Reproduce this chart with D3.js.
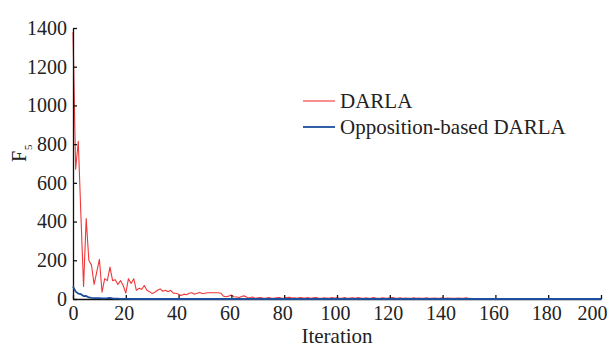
<!DOCTYPE html>
<html><head><meta charset="utf-8">
<script src="https://cdn.jsdelivr.net/npm/d3@7"></script>
<style>
body{margin:0;background:#fff}
svg{display:block}
text{font-family:"Liberation Serif","Times New Roman",serif;fill:#222}
</style>
</head><body>
<svg id="c" width="616" height="347"></svg>
<script>
const xTicks = [0,20,40,60,80,100,120,140,160,180,200];
const yTicks = [0,200,400,600,800,1000,1200,1400];
const seriesNames = ["DARLA","Opposition-based DARLA"];
const darla = [
1380,670,815,430,65,415,200,175,75,140,
205,35,105,95,165,95,100,75,95,70,
30,105,80,105,45,55,50,70,45,38,
28,35,45,52,40,45,38,45,30,30,
25,18,25,22,30,32,25,30,34,28,
30,32,32,32,32,32,30,15,12,15,
20,12,10,8,14,16,8,6,10,4,
6,8,5,4,7,5,4,
6,8,5,4,7,9,5,6,4,8,6,5,7,4,6,8,5,3,6,5,4,7,5,6,
4,5,7,3,5,6,4,8,5,3,6,4,5,7,4,3,6,5,4,6,8,5,4,6,3,
5,4,3,6,4,5,3,4,6,3,4,5,3,4,6,3,5,4,3,4,5,3,4,6,3,
2,1,2,1,1,2,1,0,1,1,
0,1,0,1,0,0,1,0,0,1,
0,0,1,0,0,0,1,0,0,0,
0,1,0,0,0,0,0,1,0,0,
0,0,0,0,1,0,0,0,0,0
];
const oppDarla = [
65,38,28,25,15,16,8,6,5,5,
4,3,3,4,6,3,2,2,1,1,
1,1,0,1,0,0,1,0,0,0,
1,0,0,0,0,1,0,0,0,0,
0,0,0,0,0,0,0,0,0,0,
0,0,0,0,0,0,0,0,0,0,
0,0,0,0,0,0,0,0,0,0,
0,0,0,0,0,0,0,0,0,0,
0,0,0,0,0,0,0,0,0,0,
0,0,0,0,0,0,0,0,0,0,
0,0,0,0,0,0,0,0,0,0,
0,0,0,0,0,0,0,0,0,0,
0,0,0,0,0,0,0,0,0,0,
0,0,0,0,0,0,0,0,0,0,
0,0,0,0,0,0,0,0,0,0,
0,0,0,0,0,0,0,0,0,0,
0,0,0,0,0,0,0,0,0,0,
0,0,0,0,0,0,0,0,0,0,
0,0,0,0,0,0,0,0,0,0,
0,0,0,0,0,0,0,0,0,0,
0
];
const colors = ["#f03838","#1d4f9e"];

const svg = d3.select("#c");
const x = d3.scaleLinear().domain([0,200]).range([73,601]);
const y = d3.scaleLinear().domain([0,1400]).range([299,28]);

const line = d3.line().x((d,i)=>x(i)).y(d=>y(d));

svg.append("path").datum(darla).attr("d",line)
  .attr("fill","none").attr("stroke",colors[0]).attr("stroke-width",1.1).attr("stroke-linejoin","round");

const xAxis = svg.append("g").attr("transform","translate(0,299)")
  .call(d3.axisBottom(x).tickValues(xTicks).tickSizeInner(-4).tickSizeOuter(0).tickPadding(7).tickFormat(d3.format("d")));
const yAxis = svg.append("g").attr("transform","translate(73,0)")
  .call(d3.axisLeft(y).tickValues(yTicks).tickSizeInner(-4).tickSizeOuter(0).tickPadding(6).tickFormat(d3.format("d")));
[xAxis,yAxis].forEach(g=>{
  g.select(".domain").attr("stroke","#111").attr("stroke-width",1.3);
  g.selectAll(".tick line").attr("stroke","#111").attr("stroke-width",1.3);
  g.selectAll(".tick text").attr("font-size",20).attr("font-family","Liberation Serif").attr("fill","#222");
});
xAxis.selectAll(".tick text").attr("dx",d=>d===200?-9:(d===0?0:-2));

svg.append("path").datum(oppDarla).attr("d",line)
  .attr("fill","none").attr("stroke",colors[1]).attr("stroke-width",1.8).attr("stroke-linejoin","round");

svg.append("text").attr("x",x(100)).attr("y",343).attr("text-anchor","middle")
  .attr("font-size",21).text("Iteration");

const yl = svg.append("text").attr("transform","translate(26,162) rotate(-90)").attr("font-size",20);
yl.append("tspan").text("F");
yl.append("tspan").attr("font-size",11).attr("dy",6).attr("dx",1).text("5");

const legY = [101,127];
seriesNames.forEach((n,i)=>{
  svg.append("line").attr("x1",303).attr("x2",335).attr("y1",legY[i]).attr("y2",legY[i])
    .attr("stroke",colors[i]).attr("stroke-width",i?1.8:1.1);
  svg.append("text").attr("x",340).attr("y",legY[i]+7).attr("font-size",21).text(n);
});
</script>
</body></html>
